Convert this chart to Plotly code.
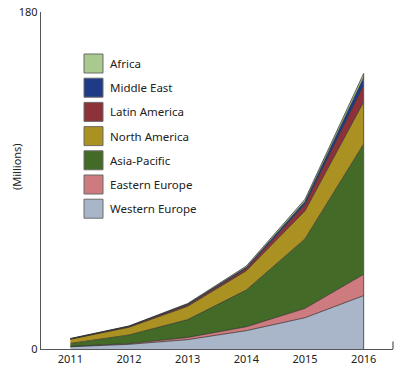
import plotly.graph_objects as go

years = [2011, 2012, 2013, 2014, 2015, 2016]
series_names = ["Western Europe", "Eastern Europe", "Asia-Pacific", "North America",
                "Latin America", "Middle East", "Africa"]
western_europe = [1.2, 2.5, 5.0, 9.8, 16.7, 28.5]
eastern_europe = [0.2, 0.4, 1.2, 2.1, 5.0, 11.4]
asia_pacific = [1.6, 4.6, 9.5, 19.6, 37.1, 69.6]
north_america = [2.2, 4.1, 7.1, 10.3, 15.0, 22.5]
latin_america = [0.2, 0.4, 0.8, 1.2, 3.5, 9.0]
middle_east = [0.1, 0.2, 0.4, 0.6, 1.5, 4.0]
africa = [0.1, 0.1, 0.3, 0.7, 1.2, 2.2]
series_values = [western_europe, eastern_europe, asia_pacific, north_america,
                 latin_america, middle_east, africa]
colors = ["#a9b6c9", "#cd7b7e", "#436a27", "#ab9121", "#8c3238", "#1f3a86", "#a9c98f"]
y_tick_vals = [0, 180]
y_tick_text = ["0", "180"]

FONT = "Noto Sans"
fig = go.Figure()
for name, vals, col in zip(series_names, series_values, colors):
    fig.add_trace(go.Scatter(
        x=years, y=vals, name=name, stackgroup="one", mode="lines",
        line=dict(color="#2a2a2a", width=0.7), fillcolor=col,
        showlegend=False, hoverinfo="x+y+name"))

# right closing edge of the stacked area
total_last = sum(v[-1] for v in series_values)
fig.add_shape(type="line", xref="x", yref="y", x0=years[-1], x1=years[-1],
              y0=0, y1=total_last, line=dict(color="#555555", width=1))
# small end tick on x axis
fig.add_shape(type="line", xref="paper", yref="paper", x0=1, x1=1, y0=0, y1=0.022,
              line=dict(color="#555555", width=1.2))

# custom legend (top to bottom: Africa ... Western Europe)
leg_x0, leg_x1 = 84, 103
W, H = 403, 369
ml, mr, mt, mb = 41, 10, 12, 20
pw, ph = W - ml - mr, H - mt - mb
def px_to_paper_x(px):
    return (px - ml) / pw
def px_to_paper_y(py):
    return 1 - (py - mt) / ph
for i, (name, col) in enumerate(zip(series_names[::-1], colors[::-1])):
    top = 54 + i * 24.2
    fig.add_shape(type="rect", xref="paper", yref="paper",
                  x0=px_to_paper_x(leg_x0), x1=px_to_paper_x(leg_x1),
                  y0=px_to_paper_y(top + 19), y1=px_to_paper_y(top),
                  fillcolor=col, line=dict(color="#6b6b6b", width=1))
    fig.add_annotation(xref="paper", yref="paper", x=px_to_paper_x(108),
                       y=px_to_paper_y(top + 9.5), text=name, showarrow=False,
                       xanchor="left", yanchor="middle",
                       font=dict(family=FONT, size=11.5, color="#222222"))

fig.add_annotation(xref="paper", yref="paper", x=px_to_paper_x(16),
                   y=px_to_paper_y(166), text="(Millions)", textangle=-90,
                   showarrow=False, xanchor="center", yanchor="middle",
                   font=dict(family=FONT, size=11, color="#222222"))

fig.update_layout(
    width=W, height=H, margin=dict(l=ml, r=mr, t=mt, b=mb, autoexpand=False),
    paper_bgcolor="white", plot_bgcolor="white",
    font=dict(family=FONT, size=11, color="#222222"),
    xaxis=dict(range=[2010.5, 2016.5], tickvals=years, automargin=False,
               ticktext=[str(y) for y in years], showgrid=False, zeroline=False,
               showline=True, linecolor="#555555", linewidth=1.3, ticks="",
               tickfont=dict(family=FONT, size=11, color="#222222")),
    yaxis=dict(range=[0, 180], tickvals=y_tick_vals, ticktext=y_tick_text,
               automargin=False,
               showgrid=False, zeroline=False, showline=True,
               linecolor="#555555", linewidth=1.3, ticks="",
               tickfont=dict(family=FONT, size=11, color="#222222")),
)
fig.write_html("out.html", config={"displayModeBar": False},
               post_script="document.body.style.margin='0';document.body.style.overflow='hidden';")
